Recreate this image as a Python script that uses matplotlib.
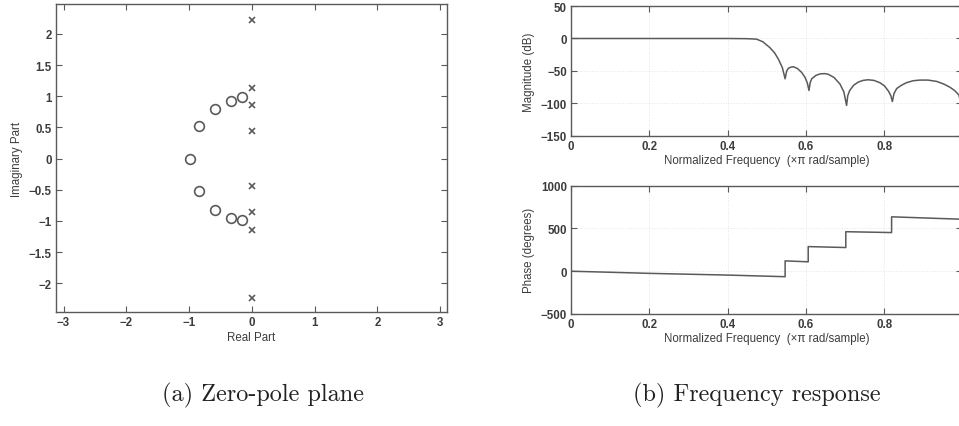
"""
Zero-pole plane and frequency response of the filter (two-panel figure).
"""

import matplotlib
matplotlib.use("Agg")
import matplotlib.pyplot as plt

# zeros (real, imag) read from the z-plane
zero_re = [-0.99, -0.84, -0.59, -0.33, -0.15, -0.84, -0.59, -0.33, -0.15]
zero_im = [0.00, 0.53, 0.80, 0.93, 0.99, -0.52, -0.82, -0.95, -0.99]

# poles sit on the imaginary axis
pole_re = [0.0, 0.0, 0.0, 0.0, 0.0, 0.0, 0.0, 0.0]
pole_im = [2.23, 1.13, 0.86, 0.44, -0.44, -0.85, -1.14, -2.23]

# magnitude response (normalized frequency, dB)
mag_f = [0.0, 0.1, 0.2, 0.3, 0.4, 0.45, 0.474, 0.49, 0.508, 0.52, 0.530, 0.540, 0.547,
         0.551, 0.555, 0.562, 0.568, 0.578, 0.589, 0.598, 0.604, 0.608,
         0.611, 0.615, 0.625, 0.636, 0.647, 0.657, 0.672, 0.687, 0.697, 0.704,
         0.707, 0.712, 0.722, 0.734, 0.746, 0.759, 0.774, 0.789, 0.801, 0.811, 0.817, 0.821,
         0.825, 0.832, 0.844, 0.857, 0.874, 0.891, 0.912, 0.934, 0.952, 0.968, 0.980, 0.991, 1.0]
mag_db = [0.0, 0.0, 0.0, 0.0, 0.0, -0.3, -1.0, -5.0, -14.0, -22.0, -32.0, -45.0, -62.0,
          -50.0, -46.0, -44.0, -43.5, -46.0, -52.0, -60.0, -69.0, -80.0,
          -68.0, -62.0, -57.0, -54.5, -54.0, -55.0, -60.0, -70.0, -82.0, -103.0,
          -88.0, -80.0, -72.0, -67.0, -64.5, -63.5, -64.5, -68.0, -73.0, -81.0, -88.0, -97.0,
          -85.0, -77.0, -72.0, -68.0, -65.0, -64.0, -64.0, -66.0, -70.0, -75.0, -80.0, -87.0, -110.0]

# phase response (normalized frequency, degrees); repeated frequencies are the jumps
ph_f = [0.0, 0.1, 0.2, 0.3, 0.4, 0.547, 0.547, 0.606, 0.606, 0.702, 0.702,
        0.819, 0.819, 0.991, 1.0]
ph_deg = [0.0, -12.0, -25.0, -35.0, -45.0, -64.0, 121.0, 110.0, 288.0, 277.0, 462.0,
          452.0, 636.0, 609.0, 608.0]

freq_ticks = [0, 0.2, 0.4, 0.6, 0.8, 1]
# the "1" label falls outside the cropped figure in the original
freq_labels = ['0', '0.2', '0.4', '0.6', '0.8', '']

INK = "#5a5a5a"
TXT = "#3c3c3c"
plt.rcParams['font.family'] = ['Liberation Sans', 'DejaVu Sans']
plt.rcParams['font.size'] = 8.3
plt.rcParams['font.weight'] = 'bold'


def matlab_axes(ax):
    for s in ax.spines.values():
        s.set_color(INK)
        s.set_linewidth(1.0)
    ax.tick_params(direction='in', length=4, width=0.8, color=INK, labelcolor=TXT,
                   top=True, right=True, labelsize=8.3, pad=3)


fig = plt.figure(figsize=(9.59, 4.27), dpi=100)

# (a) zero-pole plane
ax_zp = fig.add_axes([0.0584, 0.267, 0.4077, 0.7213])
ax_zp.plot(zero_re, zero_im, linestyle='none', marker='o', markersize=7,
           markerfacecolor='none', markeredgecolor=INK, markeredgewidth=1.2)
ax_zp.plot(pole_re, pole_im, linestyle='none', marker='x', markersize=5,
           color=INK, markeredgewidth=1.2)
ax_zp.set_xlim(-3.12, 3.11)
ax_zp.set_ylim(-2.46, 2.48)
ax_zp.set_xticks([-3, -2, -1, 0, 1, 2, 3])
ax_zp.set_yticks([-2, -1.5, -1, -0.5, 0, 0.5, 1, 1.5, 2])
ax_zp.set_yticklabels(['\u22122', '\u22121.5', '\u22121', '\u22120.5', '0', '0.5', '1', '1.5', '2'])
ax_zp.set_xticklabels(['\u22123', '\u22122', '\u22121', '0', '1', '2', '3'])
ax_zp.set_xlabel('Real Part', color=TXT, labelpad=2)
ax_zp.set_ylabel('Imaginary Part', color=TXT, labelpad=4)
matlab_axes(ax_zp)

# (b) magnitude
ax_m = fig.add_axes([0.5954, 0.6792, 0.4082, 0.3044])
ax_m.plot(mag_f, mag_db, color=INK, linewidth=1.1)
ax_m.set_xlim(0, 1)
ax_m.set_ylim(-150, 50)
ax_m.set_xticks(freq_ticks)
ax_m.set_xticklabels(freq_labels)
ax_m.set_yticks([-150, -100, -50, 0, 50])
ax_m.set_yticklabels(['\u2212150', '\u2212100', '\u221250', '0', '50'])
ax_m.set_xlabel('Normalized Frequency  (\u00d7\u03c0 rad/sample)', color=TXT, labelpad=1)
ax_m.set_ylabel('Magnitude (dB)', color=TXT, labelpad=4)
ax_m.grid(True, color='#e4e4e4', linestyle=':', linewidth=0.7)
matlab_axes(ax_m)

# (b) phase
ax_p = fig.add_axes([0.5954, 0.2623, 0.4082, 0.3005])
ax_p.plot(ph_f, ph_deg, color=INK, linewidth=1.1)
ax_p.set_xlim(0, 1)
ax_p.set_ylim(-500, 1000)
ax_p.set_xticks(freq_ticks)
ax_p.set_xticklabels(freq_labels)
ax_p.set_yticks([-500, 0, 500, 1000])
ax_p.set_yticklabels(['\u2212500', '0', '500', '1000'])
ax_p.set_xlabel('Normalized Frequency  (\u00d7\u03c0 rad/sample)', color=TXT, labelpad=1)
ax_p.set_ylabel('Phase (degrees)', color=TXT, labelpad=4)
ax_p.grid(True, color='#e4e4e4', linestyle=':', linewidth=0.7)
matlab_axes(ax_p)

# subfigure captions
fig.text(0.274, 0.075, '(a) Zero-pole plane', family='cmr10', weight='normal',
         fontsize=17.5, color='#222222', ha='center', va='center')
fig.text(0.789, 0.075, '(b) Frequency response', family='cmr10', weight='normal',
         fontsize=17.5, color='#222222', ha='center', va='center')

fig.savefig('out.png', dpi=100)
